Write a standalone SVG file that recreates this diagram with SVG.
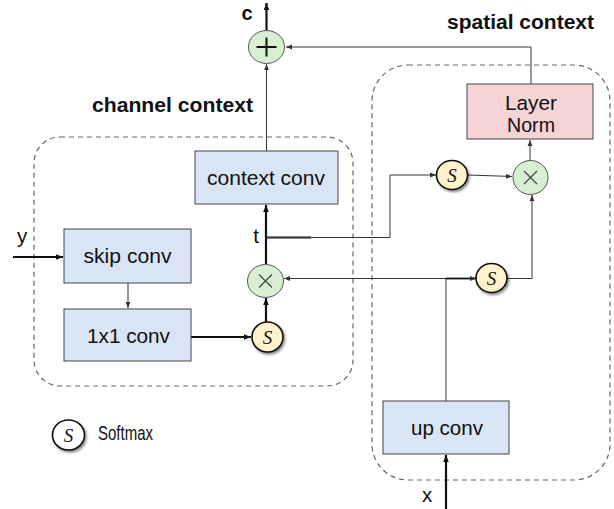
<svg xmlns="http://www.w3.org/2000/svg" width="614" height="509" viewBox="0 0 614 509">
  <defs>
    <marker id="arr" viewBox="0 0 10 10" refX="10" refY="5" markerWidth="7" markerHeight="7" markerUnits="userSpaceOnUse" orient="auto">
      <path d="M0,1 L10,5 L0,9 Z" fill="#111"/>
    </marker>
    <marker id="arrS" viewBox="0 0 10 10" refX="10" refY="5" markerWidth="6" markerHeight="6" markerUnits="userSpaceOnUse" orient="auto">
      <path d="M0,1 L10,5 L0,9 Z" fill="#333"/>
    </marker>
    <filter id="shadow" x="-40%" y="-40%" width="180%" height="180%">
      <feDropShadow dx="1.5" dy="2" stdDeviation="1.3" flood-color="#000" flood-opacity="0.45"/>
    </filter>
  </defs>
  <style>
    .group { fill: none; stroke: #666; stroke-width: 1.2; stroke-dasharray: 5 4; }
    .box { fill: #d9e4f5; stroke: #444; stroke-width: 1; }
    .norm { fill: #f6d3d5; stroke: #444; stroke-width: 1; }
    .op { fill: #d9efd3; stroke: #555; stroke-width: 1; }
    .sm { fill: #fff2cc; stroke: #111; stroke-width: 1.6; filter: url(#shadow); }
    .thick { fill: none; stroke: #111; stroke-width: 2.2; }
    .thin { fill: none; stroke: #333; stroke-width: 1; }
    .lbl { font-family: "Liberation Sans", Arial, sans-serif; font-size: 20.5px; fill: #111; }
    .title { font-family: "Liberation Sans", Arial, sans-serif; font-size: 20px; font-weight: bold; fill: #111; }
    .s { font-family: "Liberation Serif", "DejaVu Serif", serif; font-style: italic; font-size: 19px; fill: #111; }
  </style>

  <rect fill="#fff" width="614" height="509"/>

  <!-- group outlines -->
  <rect class="group" x="34" y="137" width="319" height="249" rx="26"/>
  <rect class="group" x="372" y="65" width="238" height="415" rx="36"/>

  <!-- titles -->
  <text class="title" x="92" y="112" textLength="161" lengthAdjust="spacingAndGlyphs">channel context</text>
  <text class="title" x="447" y="29" textLength="147" lengthAdjust="spacingAndGlyphs">spatial context</text>

  <!-- connectors -->
  <g id="connectors">
    <line class="thick" x1="13" y1="257" x2="63" y2="257" marker-end="url(#arr)"/>
    <line class="thin" x1="128" y1="283" x2="128" y2="308" marker-end="url(#arrS)"/>
    <line class="thick" x1="191" y1="337" x2="251" y2="337" marker-end="url(#arr)"/>
    <line class="thick" x1="266" y1="322" x2="266" y2="298" marker-end="url(#arr)"/>
    <line class="thick" x1="266" y1="264" x2="266" y2="205" marker-end="url(#arr)"/>
    <line class="thin" x1="266.5" y1="151" x2="266.5" y2="64" marker-end="url(#arrS)"/>
    <line class="thick" x1="266.5" y1="31" x2="266.5" y2="3" marker-end="url(#arr)"/>
    <polyline class="thin" points="531,84 531,47 286,47" marker-end="url(#arrS)"/>
    <line class="thin" x1="530" y1="160" x2="530" y2="140" marker-end="url(#arrS)"/>
    <!-- t branch -->
    <line x1="266" y1="237.5" x2="311" y2="237.5" stroke="#111" stroke-width="1.8"/>
    <polyline class="thin" points="266,237.5 390,237.5 390,175 436,175" marker-end="url(#arrS)"/>
    <line class="thin" x1="468" y1="175" x2="512" y2="176.5" marker-end="url(#arrS)"/>
    <!-- up conv branch -->
    <polyline class="thin" points="446,401 446,278.5 284,278.5" marker-end="url(#arrS)"/>
    <line x1="446" y1="278.5" x2="476" y2="278.5" stroke="#111" stroke-width="1.8" marker-end="url(#arrS)"/>
    <polyline class="thin" points="507,278.5 532,278.5 532,195" marker-end="url(#arrS)"/>
    <line class="thick" x1="446" y1="509" x2="446" y2="455" marker-end="url(#arr)"/>
  </g>

  <!-- blocks -->
  <g id="skip-conv">
    <rect class="box" x="64" y="229" width="127" height="54"/>
    <text class="lbl" x="127.5" y="263" text-anchor="middle" textLength="88" lengthAdjust="spacingAndGlyphs">skip conv</text>
  </g>
  <g id="conv1x1">
    <rect class="box" x="64" y="309" width="127" height="52"/>
    <text class="lbl" x="128.5" y="343" text-anchor="middle" textLength="83" lengthAdjust="spacingAndGlyphs">1x1 conv</text>
  </g>
  <g id="context-conv">
    <rect class="box" x="195" y="151" width="143" height="53"/>
    <text class="lbl" x="266" y="185" text-anchor="middle" textLength="118" lengthAdjust="spacingAndGlyphs">context conv</text>
  </g>
  <g id="layer-norm">
    <rect class="norm" x="467" y="84" width="126" height="55"/>
    <text class="lbl" x="531" y="110" text-anchor="middle" textLength="52" lengthAdjust="spacingAndGlyphs">Layer</text>
    <text class="lbl" x="531" y="132" text-anchor="middle" textLength="48" lengthAdjust="spacingAndGlyphs">Norm</text>
  </g>
  <g id="up-conv">
    <rect class="box" x="383" y="401" width="126" height="53"/>
    <text class="lbl" x="447" y="435" text-anchor="middle" textLength="72" lengthAdjust="spacingAndGlyphs">up conv</text>
  </g>

  <!-- operators -->
  <g id="add">
    <ellipse class="op" cx="266.5" cy="47" rx="18" ry="16.5"/>
    <path d="M256.5,47 H276.5 M266.5,37.5 V56.5" stroke="#111" stroke-width="2" fill="none"/>
  </g>
  <g id="mul-channel">
    <ellipse class="op" cx="265.5" cy="281" rx="18" ry="16.5"/>
    <path d="M259,274.5 L272,287.5 M272,274.5 L259,287.5" stroke="#444" stroke-width="1.2" fill="none"/>
  </g>
  <g id="mul-spatial">
    <ellipse class="op" cx="530.5" cy="177.5" rx="17.5" ry="17"/>
    <path d="M524,171 L537,184 M537,171 L524,184" stroke="#444" stroke-width="1.2" fill="none"/>
  </g>
  <g id="softmax-channel">
    <ellipse class="sm" cx="267.5" cy="337" rx="15.5" ry="15"/>
    <text class="s" x="267.5" y="343.5" text-anchor="middle">S</text>
  </g>
  <g id="softmax-t">
    <ellipse class="sm" cx="452" cy="175" rx="15.5" ry="14.5"/>
    <text class="s" x="452" y="181.5" text-anchor="middle">S</text>
  </g>
  <g id="softmax-x">
    <ellipse class="sm" cx="491.5" cy="278" rx="15.5" ry="14.5"/>
    <text class="s" x="491.5" y="284.5" text-anchor="middle">S</text>
  </g>

  <!-- signal labels -->
  <text class="title" x="247" y="20" text-anchor="middle" font-size="17">c</text>
  <text class="lbl" x="22" y="243" text-anchor="middle">y</text>
  <text class="lbl" x="256" y="243" text-anchor="middle">t</text>
  <text class="lbl" x="427" y="502" text-anchor="middle">x</text>

  <!-- legend -->
  <g id="legend">
    <ellipse class="sm" cx="68.5" cy="435" rx="16" ry="15" style="fill:#fff"/>
    <text class="s" x="68.5" y="441.5" text-anchor="middle">S</text>
    <text class="lbl" x="98" y="440" font-size="15" textLength="55" lengthAdjust="spacingAndGlyphs">Softmax</text>
  </g>
</svg>
